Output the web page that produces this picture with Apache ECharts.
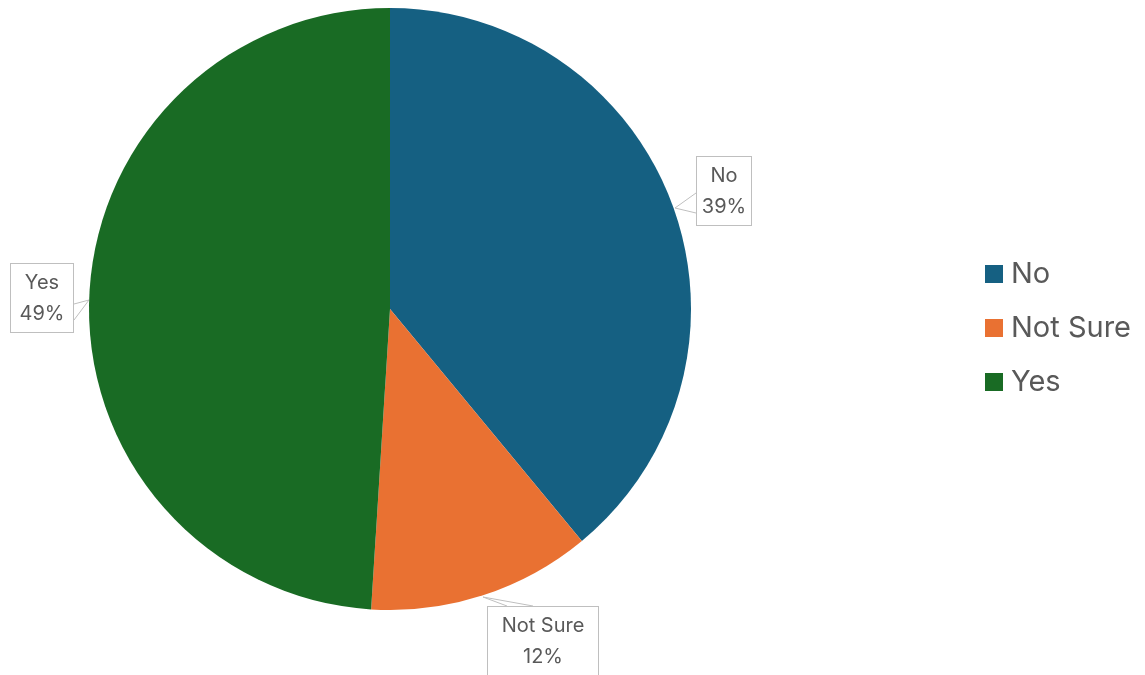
<!DOCTYPE html>
<html>
<head>
<meta charset="utf-8">
<script src="https://cdn.jsdelivr.net/npm/echarts@6/dist/echarts.min.js"></script>
<style>
  html, body { margin: 0; padding: 0; background: #fff; }
  #chart { width: 1145px; height: 675px; }
</style>
</head>
<body>
<div id="chart"></div>
<script>
// answers and their shares (%)
const categories = ['No', 'Not Sure', 'Yes'];
const shares = [39, 12, 49];
const colors = ['#156082', '#E97132', '#196B24'];

// callout box centres, pointer tips and text widths, per slice
const boxCenters = [[724, 191], [543, 641], [42, 298]];
const pointerTips = [[675, 208], [483, 597], [89, 300]];
const boxWidths = [38, 94, 46];

let chart = echarts.init(document.getElementById('chart'));
chart.setOption({
    animation: false,
    color: colors,
    legend: {
        orient: 'vertical',
        left: 980,
        top: 252,
        itemWidth: 18,
        itemHeight: 18,
        itemGap: 20,
        icon: 'rect',
        textStyle: {
            fontFamily: 'Inter',
            fontSize: 29,
            lineHeight: 34,
            color: '#595959',
            padding: [0, 0, 0, 3]
        },
        data: categories
    },
    series: [
        {
            type: 'pie',
            center: [390, 309],
            radius: 301,
            startAngle: 90,
            clockwise: true,
            label: {
                show: true,
                position: 'outside',
                overflow: 'none',
                formatter: p => p.name + '\n' + p.value + '%',
                fontFamily: 'Inter',
                fontSize: 20,
                lineHeight: 31,
                color: '#595959',
                backgroundColor: '#fff',
                borderColor: '#bfbfbf',
                borderWidth: 1,
                padding: [3, 8],
                align: 'center'
            },
            labelLine: {
                show: true,
                lineStyle: { color: '#bfbfbf', width: 1 }
            },
            labelLayout: function (params) {
                let i = params.dataIndex;
                let r = params.labelRect;
                let c = boxCenters[i];
                let tip = pointerTips[i];
                let a, b;
                if (i === 0) {
                    let x = c[0] - r.width / 2;
                    a = [x, 193]; b = [x, 213];
                } else if (i === 1) {
                    let y = c[1] - r.height / 2;
                    a = [507, y]; b = [533, y];
                } else {
                    let x = c[0] + r.width / 2;
                    a = [x, 304]; b = [x, 320];
                }
                return {
                    x: c[0],
                    y: c[1],
                    align: 'center',
                    verticalAlign: 'middle',
                    labelLinePoints: [a, tip, b]
                };
            },
            data: categories.map((name, i) => ({
                name: name,
                value: shares[i],
                label: { width: boxWidths[i] }
            }))
        }
    ]
});
</script>
</body>
</html>
